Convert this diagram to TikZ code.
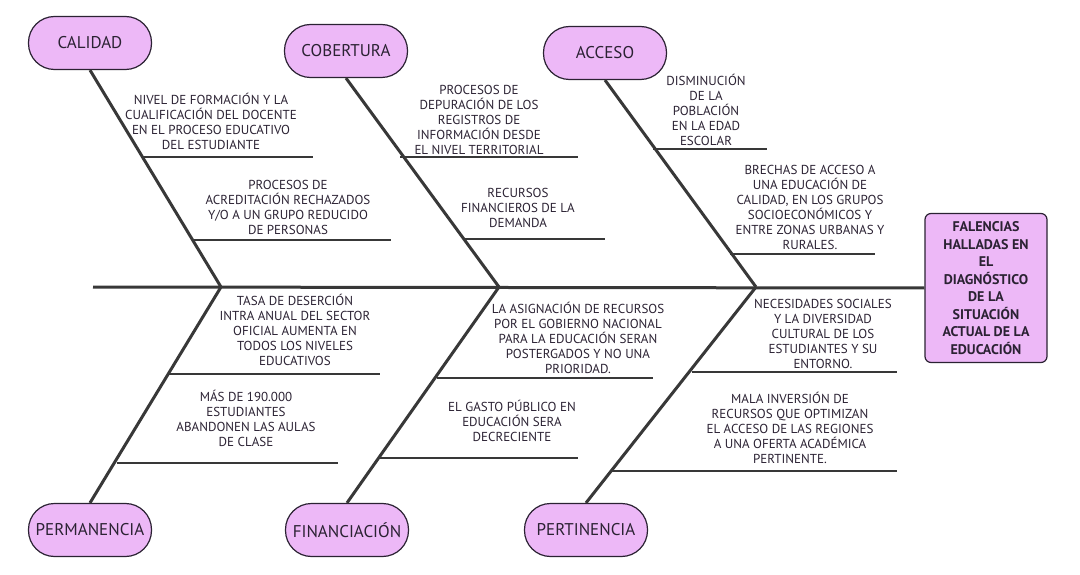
\documentclass[tikz,border=0pt]{standalone}
\usepackage{fontspec}
\setmainfont{PT Sans}
\usetikzlibrary{positioning}

\definecolor{lila}{HTML}{EDB8F7}
\definecolor{tinta}{HTML}{2B2233}
\definecolor{hueso}{HTML}{383838}

\tikzset{
  categoria/.style={draw=tinta, fill=lila, line width=1.2pt, rounded corners=26pt,
    minimum width=123pt, minimum height=53pt, inner sep=0pt,
    font=\fontsize{17}{20}\selectfont, text=tinta},
  efecto/.style={draw=tinta, fill=lila, line width=1.2pt, rounded corners=6pt,
    minimum width=122pt, minimum height=149pt, align=center, inner sep=0pt,
    font=\fontsize{14}{17.5}\selectfont\bfseries, text=tinta},
  causa/.style={align=center, inner sep=0pt, font=\fontsize{13}{15}\selectfont, text=tinta},
  espina/.style={draw=hueso, line width=3pt},
  costilla/.style={draw=hueso, line width=2.8pt},
}

\begin{document}
\begin{tikzpicture}[x=1pt, y=-1pt]
    \useasboundingbox (0,0) rectangle (1080,575);

    % cabeza y categorias
    \node (fal) [efecto] at (986,288) {FALENCIAS\\HALLADAS EN\\EL\\DIAGNÓSTICO\\DE LA\\SITUACIÓN\\ACTUAL DE LA\\EDUCACIÓN};
    \node (cal) [categoria] at (90,43) {CALIDAD};
    \node (cob) [categoria] at (346,51) {COBERTURA};
    \node (acc) [categoria] at (605,53) {ACCESO};
    \node (per) [categoria] at (90,530) {PERMANENCIA};
    \node (fin) [categoria] at (347,530) {FINANCIACIÓN};
    \node (pti) [categoria] at (586,530) {PERTINENCIA};

    % espina central
    \coordinate (cola) at (93,287);
    \coordinate (jA) at (221,287);
    \coordinate (jB) at (499,287);
    \coordinate (jC) at (756,287);
    \draw [espina] (cola) -- (fal.west);
    \draw [espina] (cal.south) -- (jA);
    \draw [espina] (per.north) -- (jA);
    \draw [espina] (cob.south) -- (jB);
    \draw [espina] (fin.north) -- (jB);
    \draw [espina] (acc.south) -- (jC);
    \draw [espina] (pti.north) -- (jC);

    % costillas
    \coordinate (c1a) at (143,157); \coordinate (c1b) at (313,157);
    \coordinate (c2a) at (193,240); \coordinate (c2b) at (391,240);
    \coordinate (c3a) at (400,157); \coordinate (c3b) at (578,157);
    \coordinate (c4a) at (463,239); \coordinate (c4b) at (605,239);
    \coordinate (c5a) at (653,149); \coordinate (c5b) at (767,149);
    \coordinate (c6a) at (730,254); \coordinate (c6b) at (875,254);
    \coordinate (c7a) at (168,374); \coordinate (c7b) at (380,374);
    \coordinate (c8a) at (117,463); \coordinate (c8b) at (338,463);
    \coordinate (c9a) at (437,378); \coordinate (c9b) at (653,378);
    \coordinate (c10a) at (380,458); \coordinate (c10b) at (578,458);
    \coordinate (c11a) at (692,372); \coordinate (c11b) at (897,372);
    \coordinate (c12a) at (612,471); \coordinate (c12b) at (897,471);
    \foreach \i in {1,...,12}
        \draw [costilla] (c\i a) -- (c\i b);

    % causas
    \node (t1) [causa] at (211,121) {NIVEL DE FORMACIÓN Y LA\\CUALIFICACIÓN DEL DOCENTE\\EN EL PROCESO EDUCATIVO\\DEL ESTUDIANTE};
    \node (t2) [causa] at (288,207) {PROCESOS DE\\ACREDITACIÓN RECHAZADOS\\Y/O A UN GRUPO REDUCIDO\\DE PERSONAS};
    \node (t3) [causa] at (479,120) {PROCESOS DE\\DEPURACIÓN DE LOS\\REGISTROS DE\\INFORMACIÓN DESDE\\EL NIVEL TERRITORIAL};
    \node (t4) [causa] at (518,208) {RECURSOS\\FINANCIEROS DE LA\\DEMANDA};
    \node (t5) [causa] at (706,110) {DISMINUCIÓN\\DE LA\\POBLACIÓN\\EN LA EDAD\\ESCOLAR};
    \node (t6) [causa] at (810,207) {BRECHAS DE ACCESO A\\UNA EDUCACIÓN DE\\CALIDAD, EN LOS GRUPOS\\SOCIOECONÓMICOS Y\\ENTRE ZONAS URBANAS Y\\RURALES.};
    \node (t7) [causa] at (295,330) {TASA DE DESERCIÓN\\INTRA ANUAL DEL SECTOR\\OFICIAL AUMENTA EN\\TODOS LOS NIVELES\\EDUCATIVOS};
    \node (t8) [causa] at (246,418) {MÁS DE 190.000\\ESTUDIANTES\\ABANDONEN LAS AULAS\\DE CLASE};
    \node (t9) [causa] at (578,338) {LA ASIGNACIÓN DE RECURSOS\\POR EL GOBIERNO NACIONAL\\PARA LA EDUCACIÓN SERAN\\POSTERGADOS Y NO UNA\\PRIORIDAD.};
    \node (t10) [causa] at (512,421) {EL GASTO PÚBLICO EN\\EDUCACIÓN SERA\\DECRECIENTE};
    \node (t11) [causa] at (823,334) {NECESIDADES SOCIALES\\Y LA DIVERSIDAD\\CULTURAL DE LOS\\ESTUDIANTES Y SU\\ENTORNO.};
    \node (t12) [causa] at (790,428) {MALA INVERSIÓN DE\\RECURSOS QUE OPTIMIZAN\\EL ACCESO DE LAS REGIONES\\A UNA OFERTA ACADÉMICA\\PERTINENTE.};
\end{tikzpicture}
\end{document}
